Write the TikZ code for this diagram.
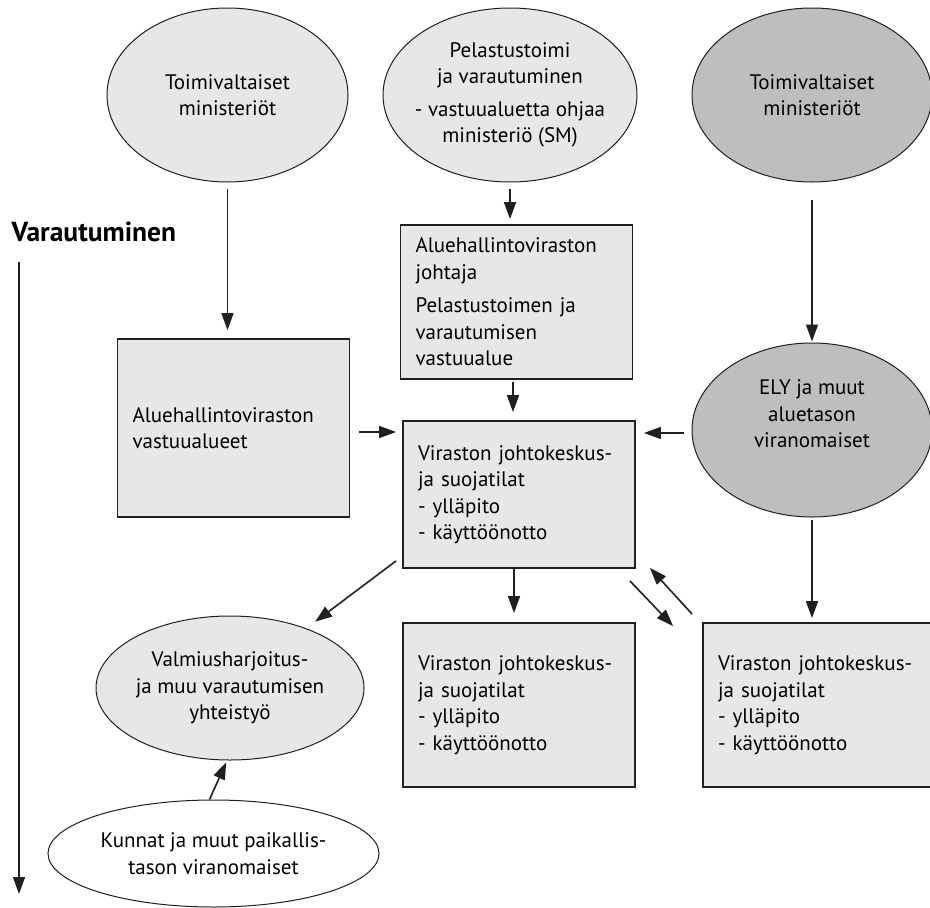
\documentclass[tikz,border=0pt]{standalone}
\usepackage{fontspec}
\setmainfont{PT Sans}
\usetikzlibrary{shapes.geometric,arrows.meta}
\definecolor{ovallight}{HTML}{E6E7E8}
\definecolor{ovaldark}{HTML}{BCBEC0}
\definecolor{edgegray}{HTML}{231F20}

\tikzset{
  oval/.style={draw=edgegray, line width=1pt, ellipse, fill=ovallight, inner sep=-12pt, align=center},
  darkoval/.style={oval, fill=ovaldark},
  box/.style={draw=edgegray, line width=1.8pt, fill=ovallight, rectangle, align=left, inner xsep=15pt, text width=202pt},
  arr/.style={-{Triangle[length=17pt,width=12pt]}, line width=1.6pt, edgegray}
}

\begin{document}
\begin{tikzpicture}[x=1pt,y=-1pt,font=\fontsize{21}{26.5}\selectfont]
      \useasboundingbox (0,0) rectangle (930,908);

      \node[oval, name=minL, minimum width=241pt, minimum height=174pt] at (227.5,95) {Toimivaltaiset\\ministeriöt};
      \node[oval, name=pelastus, minimum width=254pt, minimum height=174pt] at (510,95) {Pelastustoimi\\ja varautuminen\\[6pt]- vastuualuetta ohjaa\\ministeriö (SM)};
      \node[darkoval, name=minR, minimum width=240pt, minimum height=174pt] at (812,95) {Toimivaltaiset\\ministeriöt};
      \node[darkoval, name=ely, minimum width=240pt, minimum height=174pt] at (812,430) {};
      \node[name=elytext, align=center] at ([yshift=16pt]ely) {ELY ja muut\\aluetason\\viranomaiset};

      \node[name=varaut, anchor=west, font=\bfseries\fontsize{27.5}{32}\selectfont] at (8,232) {Varautuminen};
      \coordinate (vtop) at (19,262);
      \coordinate (vbot) at (19,894);

      \node[box, name=alueet, minimum height=178pt] at (233.5,428) {Aluehallintoviraston\\vastuualueet};
      \node[box, name=johtaja, minimum height=154pt] at (516.5,302) {Aluehallintoviraston\\johtaja\\[7pt]Pelastustoimen ja\\varautumisen\\vastuualue};
      \node[box, name=keskus, minimum height=147pt] at (519,494.5) {Viraston johtokeskus-\\ja suojatilat\\- ylläpito\\- käyttöönotto};
      \node[box, name=keskusA, minimum height=164pt] at (519,705) {Viraston johtokeskus-\\ja suojatilat\\- ylläpito\\- käyttöönotto};
      \node[box, name=keskusB, minimum height=164pt] at (819,705) {Viraston johtokeskus-\\ja suojatilat\\- ylläpito\\- käyttöönotto};

      \node[oval, name=valmius, minimum width=268pt, minimum height=144pt] at (230,688) {Valmiusharjoitus-\\ja muu varautumisen\\yhteistyö};
      \node[oval, name=kunnat, fill=white, minimum width=331pt, minimum height=107pt] at (213.5,853.5) {Kunnat ja muut paikallis-\\tason viranomaiset};

      \path[arr]
         (minL.south) edge[shorten <=6pt, shorten >=8pt] (minL.south |- alueet.north)
         (pelastus.south) edge[shorten <=6pt, shorten >=5pt] (pelastus.south |- johtaja.north)
         ([xshift=-3.5pt]johtaja.south) edge[shorten <=2pt, shorten >=8pt] ([xshift=-3.5pt]johtaja.south |- keskus.north)
         ([yshift=-4pt]alueet.east) edge[shorten <=9pt, shorten >=6pt] ([yshift=-4pt]alueet.east -| keskus.west)
         ([yshift=-3pt]ely.west) edge[shorten <=8pt, shorten >=8pt] ([yshift=-3pt]ely.west -| keskus.east)
         (minR.south) edge[shorten <=17pt, shorten >=1pt] (minR.south |- ely.north)
         (ely.south) edge[shorten <=2pt, shorten >=4pt] (ely.south |- keskusB.north)
         ([xshift=-5pt]keskus.south) edge[shorten >=9pt] ([xshift=-5pt]keskus.south |- keskusA.north)
         ([shift={(-6,12)}]keskus.south east) edge ([shift={(-29,4)}]keskusB.north west)
         ([shift={(-10,-8)}]keskusB.north west) edge ([shift={(14,-1)}]keskus.south east)
         ([shift={(-6,-8)}]keskus.south west) edge[shorten >=11pt] (valmius.38)
         ([xshift=-4pt]kunnat.north) edge[shorten >=2pt] ([xshift=-3pt]valmius.south)
         (vtop) edge (vbot);
   \end{tikzpicture}
\end{document}
